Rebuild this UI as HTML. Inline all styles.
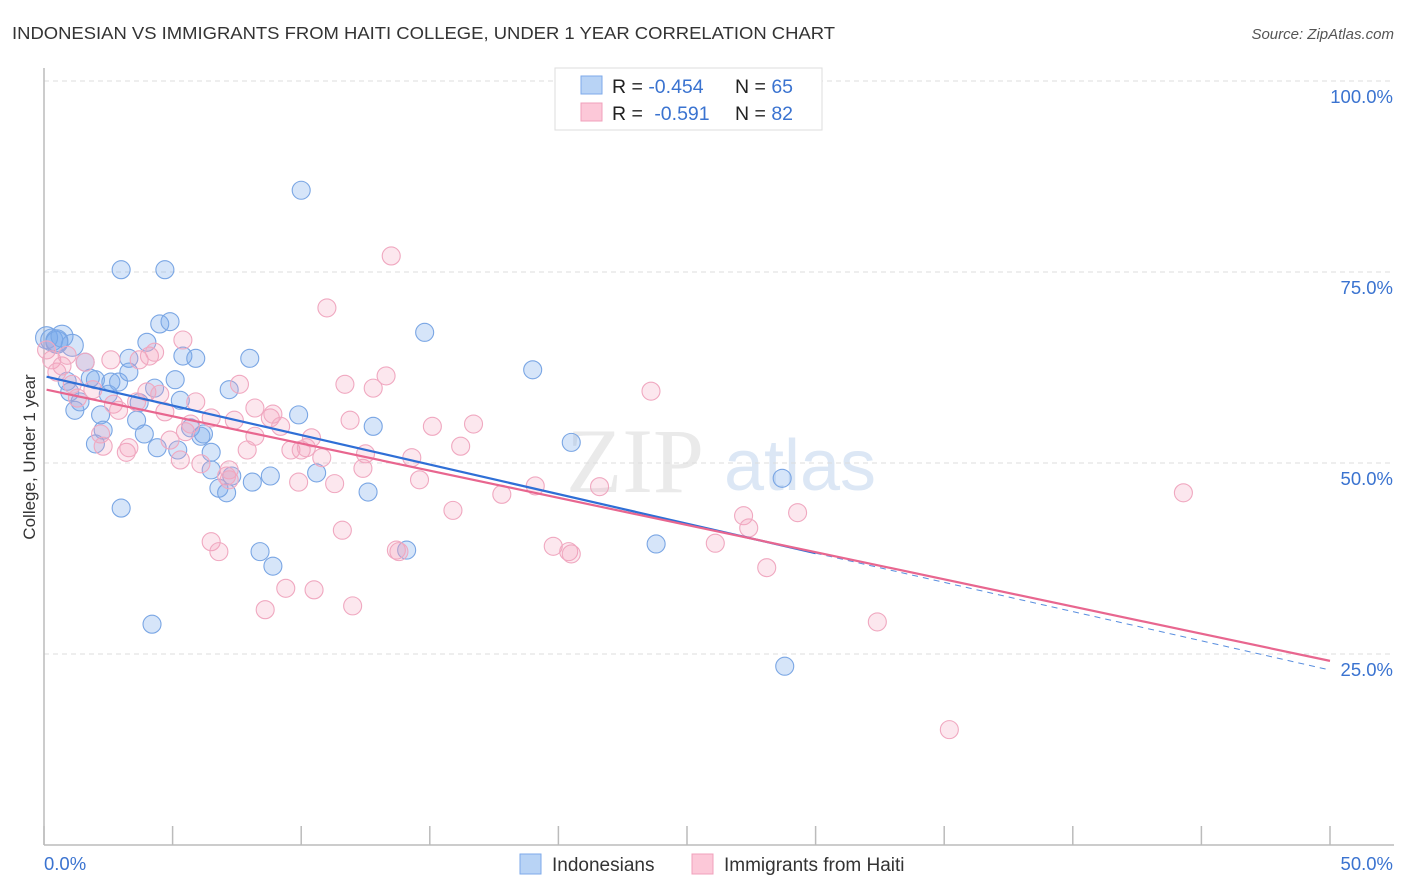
<!DOCTYPE html>
<html><head><meta charset="utf-8"><style>
body{margin:0;background:#fff;font-family:"Liberation Sans",sans-serif;}
svg{display:block}
</style></head><body>
<svg id="chart" width="1406" height="892" xmlns="http://www.w3.org/2000/svg">
<text x="12" y="39" font-size="17.5" fill="#333" textLength="823" lengthAdjust="spacingAndGlyphs">INDONESIAN VS IMMIGRANTS FROM HAITI COLLEGE, UNDER 1 YEAR CORRELATION CHART</text>
<text x="1394" y="39" font-size="15" fill="#555" font-style="italic" text-anchor="end">Source: ZipAtlas.com</text>
<g>
<text x="635" y="492" font-size="92" fill="#ddd" font-family="Liberation Serif,serif" text-anchor="middle" opacity="0.6">ZIP</text>
<text x="800" y="490" font-size="72" fill="#c5d8f0" text-anchor="middle" opacity="0.6">atlas</text>
</g>
<g id="grid"></g>
<g id="axes"></g>
<g id="points"></g>
<g id="trends"></g>
<text x="35" y="457" font-size="17" fill="#333" text-anchor="middle" transform="rotate(-90 35 457)">College, Under 1 year</text>
<g>
<rect x="555" y="68" width="267" height="62" fill="#fff" stroke="#ddd"/>
<rect x="581" y="76" width="21" height="18" fill="#b8d3f5" stroke="#7eaaea"/>
<rect x="581" y="103" width="21" height="18" fill="#fcc8d8" stroke="#f0a0bb"/>
<text x="612" y="93" font-size="19.5" fill="#222">R = <tspan fill="#3a73d0">-0.454</tspan><tspan x="735">N = </tspan><tspan fill="#3a73d0">65</tspan></text>
<text x="612" y="120" font-size="19.5" fill="#222">R = <tspan fill="#3a73d0" dx="6">-0.591</tspan><tspan x="735">N = </tspan><tspan fill="#3a73d0">82</tspan></text>
</g>
<g>
<rect x="520" y="854" width="21" height="20" fill="#b8d3f5" stroke="#7eaaea"/>
<text x="552" y="871" font-size="19" fill="#333">Indonesians</text>
<rect x="692" y="854" width="21" height="20" fill="#fcc8d8" stroke="#f0a0bb"/>
<text x="724" y="871" font-size="19" fill="#333">Immigrants from Haiti</text>
</g>
</svg>
<script>
const yTicks=[25,50,75,100];
const yTickLabels=["25.0%","50.0%","75.0%","100.0%"];
const xTickCount=[0,5,10,15,20,25,30,35,40,45,50];
const blueX=[0.1,0.3,0.5,0.7,1.1,0.5,0.9,1.0,1.2,1.4,1.6,1.8,2.0,2.2,2.3,2.0,2.5,2.6,2.9,3.0,3.0,3.3,3.3,3.6,3.7,3.9,4.0,4.3,4.2,4.4,4.5,4.7,4.9,5.1,5.3,5.2,5.4,5.9,5.7,6.1,6.2,6.5,6.5,6.8,7.1,7.2,7.3,8.0,8.1,8.4,8.8,8.9,9.9,10.0,10.6,12.6,12.8,14.1,14.8,19.0,20.5,23.8,28.7,28.8];
const blueY=[66.4,66.1,65.8,66.6,65.4,66.0,60.7,59.3,56.9,58.0,63.2,61.1,60.9,56.3,54.3,52.5,59.0,60.6,60.6,75.3,44.1,63.7,61.9,55.6,57.9,53.8,65.8,59.8,28.9,52.0,68.2,75.3,68.5,60.9,58.2,51.7,64.0,63.7,54.6,53.5,53.8,51.4,49.1,46.7,46.1,59.6,48.3,63.7,47.5,38.4,48.3,36.5,56.3,85.7,48.7,46.2,54.8,38.6,67.1,62.2,52.7,39.4,48.0,23.4];
const pinkX=[0.1,0.3,0.5,0.7,0.9,1.1,1.3,1.6,1.9,2.2,2.3,2.6,2.7,2.9,3.2,3.3,3.6,3.7,4.0,4.1,4.3,4.5,4.7,4.9,5.3,5.4,5.5,5.7,5.9,6.1,6.5,6.5,6.8,7.1,7.2,7.2,7.4,7.6,7.9,8.2,8.2,8.6,8.8,8.9,9.2,9.4,9.6,9.9,10.0,10.2,10.4,10.5,10.8,11.0,11.3,11.6,11.7,11.9,12.0,12.4,12.5,12.8,13.3,13.5,13.7,13.8,14.3,14.6,15.1,15.9,16.2,16.7,17.8,19.1,19.8,20.4,20.5,21.6,23.6,26.1,27.2,27.4,28.1,29.3,32.4,35.2,44.3];
const pinkY=[64.8,63.5,61.9,62.7,64.1,60.3,58.5,63.2,59.6,53.8,52.2,63.5,57.7,56.9,51.4,52.0,58.0,63.5,59.3,64.0,64.5,59.0,56.7,53.0,50.4,66.1,54.1,55.1,58.0,49.9,39.7,55.9,38.4,48.3,49.1,47.8,55.6,60.3,51.7,53.5,57.2,30.8,55.9,56.4,54.8,33.6,51.7,47.5,51.7,52.0,53.3,33.4,50.7,70.3,47.3,41.2,60.3,55.6,31.3,49.3,51.2,59.8,61.4,77.1,38.6,38.4,50.7,47.8,54.8,43.8,52.2,55.1,45.9,47.0,39.1,38.4,38.1,46.9,59.4,39.5,43.1,41.5,36.3,43.5,29.2,15.1,46.1];
const blueTrend=[61.3,38.2,22.9]; // y at x=0, x=30, x=50
const pinkTrend=[59.6,24.1]; // y at x=0, x=50
const NS="http://www.w3.org/2000/svg";
const X0=44,X1=1330,Yb=845,Yt=81;
const sx=v=>X0+(v/50)*(X1-X0);
const sy=v=>Yb-(v/100)*(Yb-Yt);
function mk(tag,attrs,parent){const e=document.createElementNS(NS,tag);for(const k in attrs)e.setAttribute(k,attrs[k]);document.getElementById(parent).appendChild(e);return e;}
yTicks.forEach((t,i)=>{
 const l=mk('line',{x1:X0,x2:1394,y1:sy(t),y2:sy(t),stroke:'#ddd','stroke-dasharray':'5,4'},'grid');
 
 
 const tx=mk('text',{x:1393,y:sy(t)+22,'font-size':18.5,fill:'#3a73d0','text-anchor':'end'},'grid');
 tx.textContent=yTickLabels[i];
 
 
});
const ax=mk('line',{x1:X0,x2:1394,y1:Yb,y2:Yb,stroke:'#bbb','stroke-width':1.5},'axes');


const ay=mk('line',{x1:X0,x2:X0,y1:68,y2:Yb,stroke:'#bbb','stroke-width':1.5},'axes');


xTickCount.forEach(t=>{
 const l=mk('line',{x1:sx(t),x2:sx(t),y1:826,y2:Yb,stroke:'#bbb','stroke-width':1.5},'axes');
 
 
});
const xl0=mk('text',{x:44,y:870,'font-size':18.5,fill:'#3a73d0'},'axes');xl0.textContent='0.0%';


const xl1=mk('text',{x:1393,y:870,'font-size':18.5,fill:'#3a73d0','text-anchor':'end'},'axes');xl1.textContent='50.0%';


blueX.forEach((x,i)=>{
 const c=mk('circle',{cx:sx(x),cy:sy(blueY[i]),r:i<6?11:9,fill:'rgba(120,170,235,0.3)',stroke:'#7aa6e4','stroke-width':1.1},'points');
 
 
});
pinkX.forEach((x,i)=>{
 const c=mk('circle',{cx:sx(x),cy:sy(pinkY[i]),r:9,fill:'rgba(245,160,188,0.25)',stroke:'#f0a8c0','stroke-width':1.1},'points');
 
 
});
const bt=mk('line',{x1:sx(0.1),y1:sy(blueTrend[0]),x2:sx(30),y2:sy(blueTrend[1]),stroke:'#2f6fd6','stroke-width':2.2},'trends');


const bd=mk('line',{x1:sx(30),y1:sy(blueTrend[1]),x2:sx(50),y2:sy(blueTrend[2]),stroke:'#5a8fdf','stroke-width':1,'stroke-dasharray':'6,5'},'trends');


const pt=mk('line',{x1:sx(0.1),y1:sy(pinkTrend[0]),x2:sx(50),y2:sy(pinkTrend[1]),stroke:'#e8668f','stroke-width':2.2},'trends');


</script>
</body></html>
